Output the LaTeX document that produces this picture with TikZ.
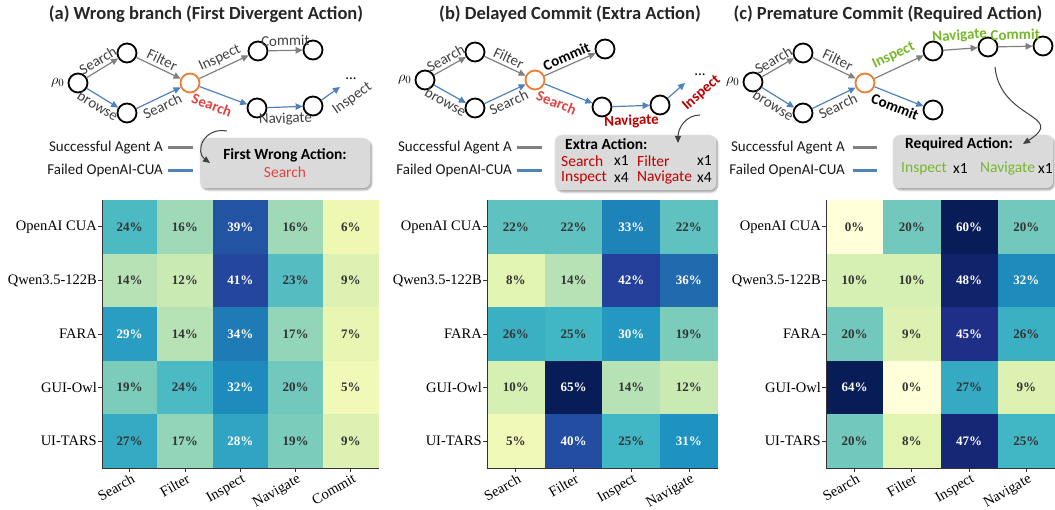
\documentclass[tikz,border=0pt]{standalone}
\usepackage{fontspec}
\setmainfont{Carlito}
\newfontfamily\heatfont{Liberation Serif}
\usetikzlibrary{arrows.meta,backgrounds,shadows.blur}

\definecolor{okc}{HTML}{808080}
\definecolor{failc}{HTML}{4F81BD}
\definecolor{pivotc}{HTML}{ED7D31}
\definecolor{labelc}{HTML}{404040}
\definecolor{redA}{HTML}{E34343}
\definecolor{redB}{HTML}{C00000}
\definecolor{greenc}{HTML}{76B82A}
\definecolor{redband}{HTML}{F4AFAF}
\definecolor{greenband}{HTML}{C8DAA4}
\definecolor{boxc}{HTML}{DADADA}
\definecolor{valc}{HTML}{333333}
\definecolor{axisc}{HTML}{333333}
% YlGnBu anchors
\definecolor{ylgnbu0}{HTML}{FFFFD9}
\definecolor{ylgnbu1}{HTML}{EDF8B1}
\definecolor{ylgnbu2}{HTML}{C7E9B4}
\definecolor{ylgnbu3}{HTML}{7FCDBB}
\definecolor{ylgnbu4}{HTML}{41B6C4}
\definecolor{ylgnbu5}{HTML}{1D91C0}
\definecolor{ylgnbu6}{HTML}{225EA8}
\definecolor{ylgnbu7}{HTML}{253494}
\definecolor{ylgnbu8}{HTML}{081D58}

% colour of a cell, scale 0..50
\newcommand{\heatcol}[1]{%
  \pgfmathsetmacro\hcT{min(#1/50,1)*8}%
  \pgfmathtruncatemacro\hcI{floor(\hcT)}%
  \pgfmathtruncatemacro\hcJ{min(\hcI+1,8)}%
  \pgfmathtruncatemacro\hcF{round((\hcT-\hcI)*100)}%
  \colorlet{hc}{ylgnbu\hcJ!\hcF!ylgnbu\hcI}}

% #1 prefix, #2 left, #3 cell width, #4 right, #5 columns, #6 rows of values
\newcommand{\drawheat}[6]{%
  \foreach \rowvals [count=\ri from 0] in {#6} {
    \foreach \v [count=\ci from 0] in \rowvals {
      \heatcol{\v}
      \fill[hc] ({#2+\ci*#3},{200+\ri*53.6}) rectangle ++(#3,53.6);
      \ifnum\v>27 \def\tc{white}\else\def\tc{valc}\fi
      \node[val, text=\tc] (#1-\ri-\ci) at ({#2+(\ci+0.5)*#3},{200+(\ri+0.5)*53.6}) {\v\%};
    }
  }
  \foreach \lab [count=\ri from 0] in {OpenAI CUA,Qwen3.5-122B,FARA,GUI-Owl,UI-TARS} {
    \node[ylab] (#1-y\ri) at ({#2-5},{200+(\ri+0.5)*53.6}) {\lab};
    \draw[axis] (#1-y\ri.east) ++(1,0) -- ++(4,0);
  }
  \foreach \lab [count=\ci from 0] in {#5} {
    \node[xlab] (#1-x\ci) at ({#2+(\ci+0.5)*#3+1},473) {\lab};
    \draw[axis] ({#2+(\ci+0.5)*#3},468) -- ++(0,4);
  }
  \draw[axis] (#2,200) -- (#2,468) -- (#4,468);
}

\begin{document}
\begin{tikzpicture}[x=1pt, y=-1pt,
  st/.style={circle, draw=black, line width=1.8pt, fill=white, minimum size=19pt, inner sep=0pt},
  pivot/.style={st, draw=pivotc},
  ok/.style={draw=okc, line width=1.2pt, -{Triangle[length=7pt, width=6.5pt]}},
  fail/.style={draw=failc, line width=1.2pt, -{Triangle[length=7pt, width=6.5pt]}},
  lbl/.style={font=\fontsize{15}{17}\selectfont, text=labelc, inner sep=3pt},
  elbl/.style={lbl, sloped},
  hot/.style={font=\bfseries\fontsize{15}{17}\selectfont},
  title/.style={font=\bfseries\fontsize{18.5}{21}\selectfont, text=black!85},
  leg/.style={font=\fontsize{15}{17}\selectfont, text=black!90, anchor=east, inner sep=0pt},
  legok/.style={draw=okc, line width=3pt},
  legfail/.style={draw=failc, line width=3pt},
  redhl/.style={draw=redband, line width=10pt, line cap=round, line join=round},
  greenhl/.style={draw=greenband, line width=10pt, line cap=round, line join=round},
  infobox/.style={rounded corners=7pt, fill=boxc, draw=black!10,
    blur shadow={shadow xshift=1.5pt, shadow yshift=-2pt, shadow blur steps=6, shadow opacity=40}},
  boxtxt/.style={font=\fontsize{15.5}{18}\selectfont, inner sep=0pt, anchor=west},
  callout/.style={draw=black!75, line width=1pt, -{Triangle[length=7pt, width=6pt]}},
  val/.style={font=\heatfont\bfseries\fontsize{13}{15}\selectfont, inner sep=0pt},
  ylab/.style={font=\heatfont\fontsize{14.5}{16}\selectfont, anchor=east, inner sep=0pt},
  xlab/.style={font=\heatfont\fontsize{14.5}{16}\selectfont, anchor=north east, rotate=30, inner sep=0pt},
  axis/.style={draw=axisc, line width=0.8pt}]
\useasboundingbox (0,0) rectangle (1055,510);

% (a) wrong branch
\node[title] (ta) at (206,14) {(a) Wrong branch (First Divergent Action)};
\node[st] (a0) at (78,83) {};
\node[lbl, left, text=black] (a0l) at (a0.west) {$\rho_0$};
\node[st] (a1) at (127,53) {};
\node[st] (a2) at (127,113) {};
\node[pivot] (a3) at (190,83) {};
\node[st] (a4) at (258,51) {};
\node[st] (a5) at (313,50) {};
\node[st] (a6) at (257,108) {};
\node[st] (a7) at (313,106) {};
\coordinate (a8) at (340,87);
\node[lbl, text=black] (a9) at (351,79) {...};
\begin{scope}[on background layer]
  \draw[redhl] (a3.center) -- (a6.center);
\end{scope}
\draw[ok] (a0) -- node[elbl, above] {Search} (a1);
\draw[fail] (a0) -- node[elbl, below] {browse} (a2);
\draw[ok] (a1) -- node[elbl, above] {Filter} (a3);
\draw[fail] (a2) -- node[elbl, below] {Search} (a3);
\draw[ok] (a3) -- node[elbl, above] {Inspect} (a4);
\draw[ok] (a4) -- node[elbl, above=1pt] {Commit} (a5);
\draw[fail] (a3) -- node[elbl, hot, text=redA, below=4pt, pos=0.35] {Search} (a6);
\draw[fail] (a6) -- node[elbl, below=2pt] {Navigate} (a7);
\draw[fail] (a7) -- node[elbl, below=7pt, pos=1.15] {Inspect} (a8);

\node[leg] (la1) at (163,148) {Successful Agent A};
\node[leg] (la2) at (163,171) {Failed OpenAI-CUA};
\draw[legok] (la1.east) ++(5,0) -- ++(25,0);
\draw[legfail] (la2.east) ++(5,0) -- ++(25,0);

\node[infobox, minimum width=170pt, minimum height=50pt, align=center,
  font=\fontsize{15.5}{18}\selectfont] (ba) at (285,163)
  {\textbf{First Wrong Action:}\\ \textcolor{redA}{Search}};
\coordinate (sa) at (227,131);
\coordinate (ea) at (210,163);
\draw[callout] (sa) .. controls (203,127) and (195,152) .. (ea);

% (b) delayed commit
\node[title] (tb) at (570,14) {(b) Delayed Commit (Extra Action)};
\node[st] (b0) at (425,80) {};
\node[lbl, left, text=black] (b0l) at (b0.west) {$\rho_0$};
\node[st] (b1) at (475,52) {};
\node[st] (b2) at (475,108) {};
\node[pivot] (b3) at (535,80) {};
\node[st] (b4) at (605,49) {};
\node[st] (b5) at (602,107) {};
\node[st] (b6) at (660,105) {};
\coordinate (b7) at (685,83);
\coordinate (b9) at (697,75);
\node[lbl, text=black] (b8) at (700,75) {...};
\begin{scope}[on background layer]
  \draw[redhl] (b3.center) -- (b5.center) -- (b6.center) -- (b9);
\end{scope}
\draw[ok] (b0) -- node[elbl, above] {Search} (b1);
\draw[fail] (b0) -- node[elbl, below] {browse} (b2);
\draw[ok] (b1) -- node[elbl, above] {Filter} (b3);
\draw[fail] (b2) -- node[elbl, below] {Search} (b3);
\draw[ok] (b3) -- node[elbl, hot, text=black, above] {Commit} (b4);
\draw[fail] (b3) -- node[elbl, hot, text=redA, below=4pt, pos=0.35] {Search} (b5);
\draw[fail] (b5) -- node[elbl, hot, text=redB, below=5pt] {Navigate} (b6);
\draw[fail] (b6) -- node[elbl, hot, text=redB, below=9pt, pos=1.25] {Inspect} (b7);

\node[leg] (lb1) at (512,148) {Successful Agent A};
\node[leg] (lb2) at (512,171) {Failed OpenAI-CUA};
\draw[legok] (lb1.east) ++(5,0) -- ++(25,0);
\draw[legfail] (lb2.east) ++(5,0) -- ++(25,0);

\node[infobox, minimum width=161pt, minimum height=55pt] (bb) at (635.5,162.5) {};
\node[boxtxt, font=\bfseries\fontsize{15.5}{18}\selectfont] (bb0) at (565,144) {Extra Action:};
\node[boxtxt, text=redB] (bb1) at (561,161) {Search};
\node[boxtxt] (bb2) at (614,161) {x1};
\node[boxtxt, text=redB] (bb3) at (637,161) {Filter};
\node[boxtxt] (bb4) at (697,161) {x1};
\node[boxtxt, text=redB] (bb5) at (561,178) {Inspect};
\node[boxtxt] (bb6) at (614,178) {x4};
\node[boxtxt, text=redB] (bb7) at (637,178) {Navigate};
\node[boxtxt] (bb8) at (697,178) {x4};
\coordinate (sb) at (700,115);
\coordinate (eb) at (678,143);
\draw[callout] (sb) .. controls (686,115) and (678,128) .. (eb);

% (c) premature commit
\node[title] (tc) at (888,14) {(c) Premature Commit (Required Action)};
\node[st] (c0) at (753,82) {};
\node[lbl, left, text=black] (c0l) at (c0.west) {$\rho_0$};
\node[st] (c1) at (803,53) {};
\node[st] (c2) at (803,113) {};
\node[pivot] (c3) at (865,83) {};
\node[st] (c4) at (933,51) {};
\node[st] (c5) at (988,47) {};
\node[st] (c6) at (1043,46) {};
\node[st] (c7) at (933,110) {};
\begin{scope}[on background layer]
  \draw[greenhl] (c3.center) -- (c4.center) -- (c5.center) -- (c6.center);
\end{scope}
\draw[ok] (c0) -- node[elbl, above] {Search} (c1);
\draw[fail] (c0) -- node[elbl, below] {browse} (c2);
\draw[ok] (c1) -- node[elbl, above] {Filter} (c3);
\draw[fail] (c2) -- node[elbl, below] {Search} (c3);
\draw[ok] (c3) -- node[elbl, hot, text=greenc, above=3pt] {Inspect} (c4);
\draw[ok] (c4) -- node[elbl, hot, text=greenc, above=3pt] {Navigate} (c5);
\draw[ok] (c5) -- node[elbl, hot, text=greenc, above=3pt] {Commit} (c6);
\draw[fail] (c3) -- node[elbl, hot, text=black, below=2pt] {Commit} (c7);

\node[leg] (lc1) at (845,148) {Successful Agent A};
\node[leg] (lc2) at (845,171) {Failed OpenAI-CUA};
\draw[legok] (lc1.east) ++(8,0) -- ++(24,0);
\draw[legfail] (lc2.east) ++(8,0) -- ++(24,0);

\node[infobox, minimum width=160pt, minimum height=53pt] (bc) at (973,161.5) {};
\node[boxtxt, font=\bfseries\fontsize{15.5}{18}\selectfont] (bc0) at (905,144) {Required Action:};
\node[boxtxt, text=greenc] (bc1) at (901,169) {Inspect};
\node[boxtxt] (bc2) at (953,169) {x1};
\node[boxtxt, text=greenc] (bc3) at (980,169) {Navigate};
\node[boxtxt] (bc4) at (1038,169) {x1};
\coordinate (sc) at (995,67);
\coordinate (ec) at (1023,144);
\draw[callout] (sc) .. controls (1000,120) and (1068,115) .. (ec);

% heatmaps
\drawheat{ha}{102}{55.3}{378.5}{Search,Filter,Inspect,Navigate,Commit}
  {{24,16,39,16,6},{14,12,41,23,9},{29,14,34,17,7},{19,24,32,20,5},{27,17,28,19,9}}
\drawheat{hb}{487}{57.7}{717.8}{Search,Filter,Inspect,Navigate}
  {{22,22,33,22},{8,14,42,36},{26,25,30,19},{10,65,14,12},{5,40,25,31}}
\drawheat{hc}{826}{57.25}{1055}{Search,Filter,Inspect,Navigate}
  {{0,20,60,20},{10,10,48,32},{20,9,45,26},{64,0,27,9},{20,8,47,25}}
\end{tikzpicture}
\end{document}
